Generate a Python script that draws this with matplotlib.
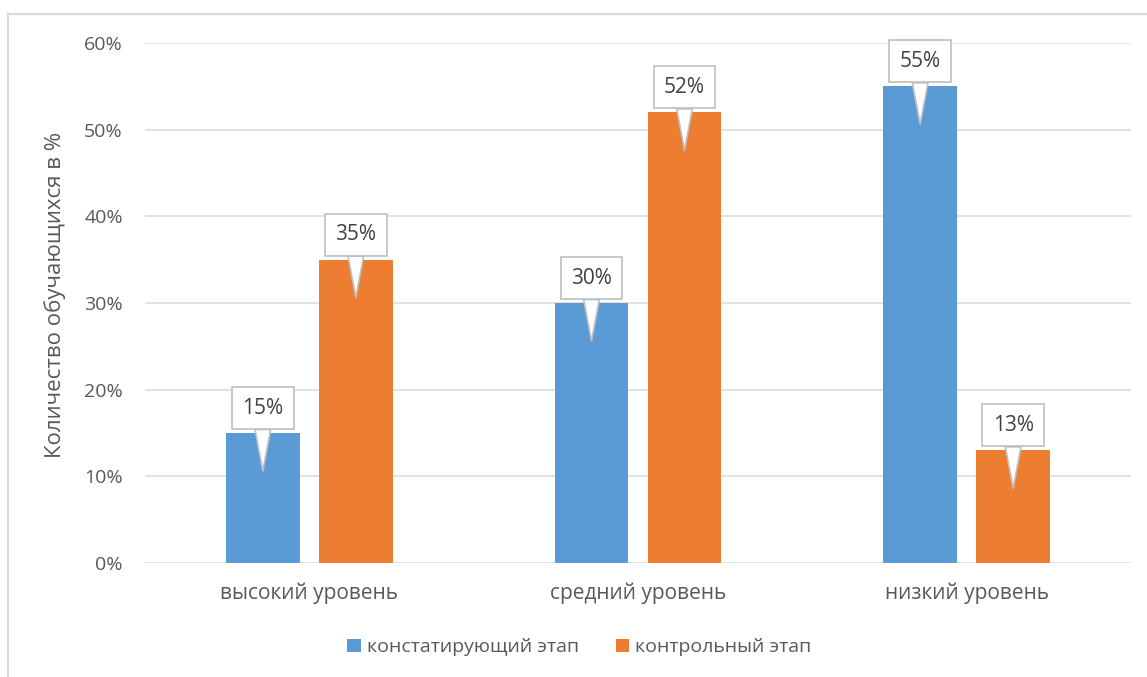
import matplotlib
matplotlib.use('Agg')
import matplotlib.pyplot as plt
import matplotlib.transforms as mtransforms
from matplotlib.patches import Rectangle
import numpy as np

# data
categories = ['высокий уровень', 'средний уровень', 'низкий уровень']
series_names = ['констатирующий этап', 'контрольный этап']
stage1 = [0.15, 0.30, 0.55]
stage2 = [0.35, 0.52, 0.13]
colors = ['#5B9BD5', '#ED7D31']
yticks = [0, 0.1, 0.2, 0.3, 0.4, 0.5, 0.6]

plt.rcParams['font.family'] = ['Open Sans', 'DejaVu Sans']
txt_color = '#595959'
grid_color = '#D9D9D9'
fs = 14

W, H = 1147, 677
fig = plt.figure(figsize=(W / 100, H / 100), dpi=100)
ax = fig.add_axes([145 / W, 114 / H, 986 / W, 520 / H])

# chart-area frame (extends past right / bottom of the crop)
fig.patches.append(Rectangle((8 / W, -0.1), 1.2, 0.1 + (H - 14) / H,
                             transform=fig.transFigure, fill=False,
                             ec=grid_color, lw=1.5, clip_on=False))

x = np.arange(len(categories))
width = 0.225
offset = 0.1415

for vals, off, col, name in zip([stage1, stage2], [-offset, offset], colors, series_names):
    ax.bar(x + off, vals, width, color=col, label=name, zorder=2)
    for xi, v in zip(x + off, vals):
        tip = mtransforms.offset_copy(ax.transData, fig=fig, x=0, y=-38, units='dots')
        ax.annotate(f'{round(v * 100)}%', xy=(xi, v), xycoords=tip,
                    xytext=(0, 63), textcoords='offset pixels',
                    ha='center', va='center', fontsize=15, color='#404040',
                    bbox=dict(boxstyle='square,pad=0.5', fc='white', ec='#BFBFBF', lw=1.2),
                    arrowprops=dict(arrowstyle='wedge,tail_width=0.75,shrink_factor=0.5',
                                    fc='white', ec='#BFBFBF', lw=1.2,
                                    shrinkA=0, shrinkB=0),
                    zorder=5)

ax.set_xlim(-0.5, len(categories) - 0.5)
ax.set_ylim(0, 0.6)
ax.set_yticks(yticks)
ax.set_yticklabels([f'{round(t * 100)}%' for t in yticks])
ax.set_xticks(x)
ax.set_xticklabels(categories)
ax.yaxis.grid(True, color=grid_color, lw=1.1, zorder=0)
ax.set_axisbelow(True)
for s in ax.spines.values():
    s.set_visible(False)
ax.tick_params(axis='y', length=0, pad=16, labelsize=fs, labelcolor=txt_color)
ax.tick_params(axis='x', length=0, pad=14, labelsize=15, labelcolor=txt_color)

ax.set_ylabel('Количество обучающихся в %', fontsize=16, color=txt_color)
ax.yaxis.set_label_coords(-(145 - 66) / 986, 0.5 + 8 / 520)

fig.legend(loc='center', bbox_to_anchor=(0.505, 0.044), ncol=2, frameon=False,
           fontsize=fs, labelcolor=txt_color, handlelength=0.7, handleheight=0.7,
           handletextpad=0.3, columnspacing=1.9)

plt.savefig('out.png', dpi=100)
